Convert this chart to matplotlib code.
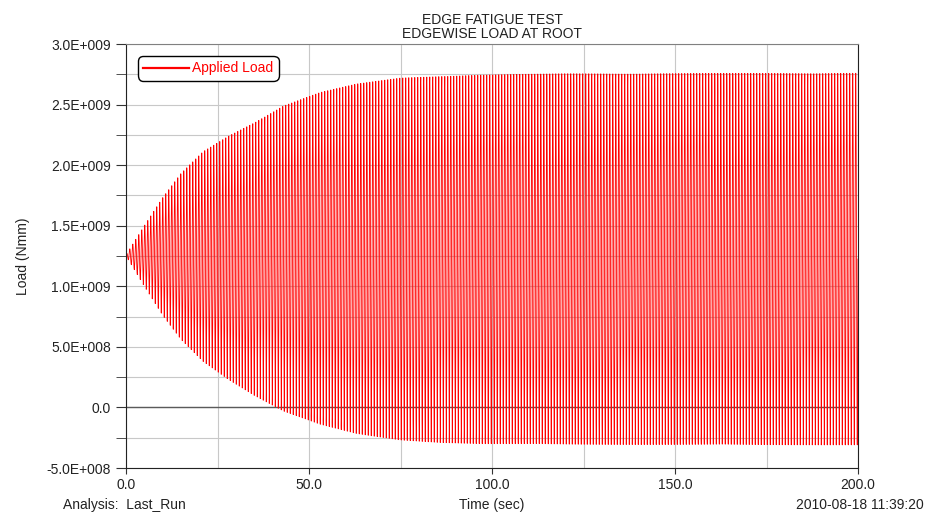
import numpy as np
import matplotlib.pyplot as plt
from matplotlib.ticker import MultipleLocator, FuncFormatter

plt.rcParams['font.family'] = ['Liberation Sans', 'DejaVu Sans']

# Envelope of the edgewise root load (Nmm) at a few times (sec)
env_time = [0, 5, 10, 15, 21, 28, 35, 43, 53, 63, 75, 86, 97, 120, 200]
env_upper = [1.26e9, 1.50e9, 1.73e9, 1.93e9, 2.11e9, 2.24e9, 2.35e9, 2.49e9,
             2.60e9, 2.67e9, 2.72e9, 2.735e9, 2.745e9, 2.755e9, 2.76e9]
env_lower = [1.25e9, 1.00e9, 0.76e9, 0.56e9, 0.38e9, 0.23e9, 0.10e9, -0.03e9,
             -0.14e9, -0.22e9, -0.27e9, -0.29e9, -0.30e9, -0.305e9, -0.31e9]
freq_hz = 1.22          # excitation frequency of the fatigue rig
sample_dt = 0.02        # output step of the run
t_end = 200.0

t = np.arange(0, t_end + sample_dt, sample_dt)
upper = np.interp(t, env_time, env_upper)
lower = np.interp(t, env_time, env_lower)
load = 0.5 * (upper + lower) + 0.5 * (upper - lower) * np.sin(2 * np.pi * freq_hz * t)

txt = '#222222'
fig = plt.figure(figsize=(9.26, 5.14), dpi=100)
ax = fig.add_axes([126 / 926, 1 - 468 / 514, 732 / 926, 424 / 514])

ax.plot(t, load, color='red', lw=0.6, label='Applied Load')
ax.axhline(0, color='#5a5a5a', lw=1.0, zorder=1.5)

ax.set_xlim(0, 200)
ax.set_ylim(-5e8, 3e9)
ax.xaxis.set_major_locator(MultipleLocator(50))
ax.xaxis.set_minor_locator(MultipleLocator(25))
ax.yaxis.set_major_locator(MultipleLocator(5e8))
ax.yaxis.set_minor_locator(MultipleLocator(2.5e8))
ax.xaxis.set_major_formatter(FuncFormatter(lambda v, p: f'{v:.1f}'))


def sci(v, p):
    if abs(v) < 1:
        return '0.0'
    e = int(np.floor(np.log10(abs(v))))
    return f'{v / 10**e:.1f}E+{e:03d}'


ax.yaxis.set_major_formatter(FuncFormatter(sci))
ax.grid(True, which='both', color='#c8c8c8', lw=0.8)
ax.set_axisbelow(True)
ax.tick_params(which='both', direction='out', colors='#333333', labelcolor=txt, labelsize=10)
ax.tick_params(axis='y', which='both', length=7, pad=4)
ax.tick_params(axis='x', which='major', length=4, pad=3)
ax.tick_params(axis='x', which='minor', length=0)

for side in ['left', 'bottom', 'right']:
    ax.spines[side].set_color('#222222')
ax.spines['top'].set_color('#808080')

ax.set_title('EDGE FATIGUE TEST\nEDGEWISE LOAD AT ROOT', fontsize=10, color=txt,
             pad=4, linespacing=1.0)
ax.set_ylabel('Load (Nmm)', fontsize=10, color=txt, labelpad=12)

leg = ax.legend(loc='upper left', bbox_to_anchor=(0.016, 0.972), fontsize=10,
                labelcolor='red', handlelength=3.3, handletextpad=0.2,
                borderpad=0.4, borderaxespad=0, fancybox=True, framealpha=1,
                edgecolor='black')
leg.get_frame().set_linewidth(1.0)
leg.get_frame().set_boxstyle('round', pad=0.0, rounding_size=0.4)
for h in leg.get_lines():
    h.set_linewidth(1.6)

fig.text(63 / 926, 1 - 505 / 514, 'Analysis:  Last_Run', fontsize=10, color=txt,
         ha='left', va='center')
fig.text(492 / 926, 1 - 505 / 514, 'Time (sec)', fontsize=10, color=txt,
         ha='center', va='center')
fig.text(924 / 926, 1 - 505 / 514, '2010-08-18 11:39:20', fontsize=10, color=txt,
         ha='right', va='center')

fig.savefig('out.png', dpi=100)
